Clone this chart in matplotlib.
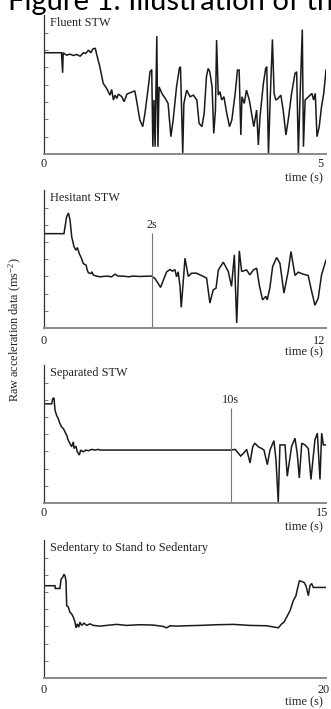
import matplotlib
matplotlib.use("Agg")
import matplotlib.pyplot as plt

plt.rcParams['font.family'] = ['Liberation Serif', 'DejaVu Serif']
plt.rcParams['mathtext.default'] = 'regular'

# ---------------- data ----------------
fluent_t = [0.00, 0.31, 0.33, 0.34, 0.40, 0.46, 0.52, 0.58, 0.64, 0.70, 0.74, 0.79, 0.83, 0.87, 0.91,
            0.93, 0.99, 1.05, 1.11, 1.17, 1.20, 1.23, 1.26, 1.29, 1.32, 1.38, 1.42, 1.47, 1.61, 1.64,
            1.70, 1.75, 1.79, 1.85, 1.88, 1.91, 1.93, 1.95, 1.97, 2.00, 2.02, 2.04, 2.09, 2.15, 2.20,
            2.25, 2.29, 2.35, 2.40, 2.42, 2.46, 2.48, 2.53, 2.59, 2.65, 2.71, 2.75, 2.80, 2.84, 2.88,
            2.91, 2.94, 2.98, 3.01, 3.04, 3.06, 3.09, 3.12, 3.15, 3.19, 3.24, 3.29, 3.33, 3.39, 3.43,
            3.46, 3.49, 3.51, 3.55, 3.59, 3.64, 3.68, 3.72, 3.77, 3.80, 3.83, 3.89, 3.93, 3.95, 3.98,
            4.01, 4.05, 4.08, 4.11, 4.15, 4.20, 4.24, 4.29, 4.33, 4.39, 4.45, 4.48, 4.51, 4.54, 4.58,
            4.60, 4.63, 4.69, 4.75, 4.78, 4.81, 4.84, 4.88, 4.92, 4.96, 5.00]
fluent_v = [5.85, 5.85, 4.69, 5.85, 5.71, 5.77, 5.69, 5.75, 5.65, 5.85, 5.81, 6.00, 5.85, 6.08, 6.10,
            5.81, 5.04, 4.08, 3.79, 3.40, 3.73, 3.12, 3.40, 3.21, 3.46, 3.31, 3.02, 3.46, 3.65, 3.12,
            1.96, 1.58, 2.35, 3.88, 4.75, 4.88, 0.42, 3.12, 0.42, 6.81, 0.42, 3.88, 3.50, 3.21, 2.92,
            1.00, 1.96, 3.88, 4.94, 5.04, 0.04, 2.92, 3.69, 3.31, 3.40, 3.12, 1.77, 1.58, 2.35, 4.46,
            4.94, 4.75, 3.88, 1.19, 2.54, 6.58, 3.40, 3.60, 3.12, 3.31, 2.35, 1.58, 1.96, 3.50, 4.85,
            4.85, 1.10, 3.31, 2.92, 3.69, 3.12, 2.35, 1.58, 2.54, 0.52, 2.15, 4.08, 4.94, 5.04, 0.04,
            3.12, 6.62, 3.50, 3.12, 3.21, 3.40, 2.54, 1.10, 1.96, 3.50, 4.65, 4.75, 0.04, 3.31, 7.19,
            0.42, 3.12, 3.31, 3.50, 3.12, 3.50, 1.00, 1.58, 2.73, 3.50, 4.85]

hesitant_t = [0.00, 0.85, 0.96, 1.04, 1.11, 1.18, 1.28, 1.36, 1.42, 1.50, 1.60, 1.67, 1.79, 1.84, 1.89,
              1.99, 2.04, 2.10, 2.24, 2.38, 2.67, 2.88, 3.02, 3.16, 3.37, 3.59, 3.80, 4.08, 4.58, 4.72,
              4.86, 4.96, 5.08, 5.22, 5.36, 5.47, 5.57, 5.64, 5.71, 5.79, 5.84, 5.93, 6.00, 6.14, 6.28,
              6.49, 6.78, 6.92, 7.06, 7.20, 7.32, 7.42, 7.63, 7.84, 7.98, 8.10, 8.20, 8.31, 8.41, 8.62,
              8.76, 8.91, 9.05, 9.16, 9.30, 9.44, 9.50, 9.61, 9.73, 9.90, 10.04, 10.21, 10.39, 10.51,
              10.68, 10.82, 11.03, 11.24, 11.39, 11.53, 11.67, 11.81, 12.00]
hesitant_v = [5.49, 5.49, 6.46, 6.69, 6.27, 5.30, 4.72, 4.53, 4.68, 4.33, 4.04, 3.75, 3.66, 3.37, 3.21,
              3.17, 3.27, 3.08, 3.02, 2.98, 3.02, 2.98, 3.13, 3.02, 3.02, 2.98, 3.02, 3.00, 3.02, 2.88,
              2.59, 2.36, 2.79, 3.27, 3.40, 3.31, 3.40, 2.98, 3.27, 2.40, 1.20, 2.79, 4.06, 3.00, 3.19,
              3.19, 3.00, 2.90, 1.45, 2.22, 2.32, 3.38, 3.83, 3.29, 2.42, 4.26, 0.29, 4.49, 3.29, 3.38,
              3.09, 3.38, 3.48, 2.51, 1.64, 1.84, 1.64, 2.32, 3.58, 4.10, 3.77, 2.03, 3.29, 4.45,
              3.06, 3.25, 3.13, 3.06, 2.13, 1.32, 1.74, 3.09, 3.95]

separated_t = [0.00, 0.41, 0.46, 0.53, 0.59, 0.67, 0.76, 0.85, 0.94, 1.03, 1.12, 1.21, 1.29, 1.38, 1.47,
               1.56, 1.60, 1.70, 1.77, 1.88, 1.95, 2.09, 2.23, 2.36, 2.54, 2.71, 2.89, 2.98, 9.93, 10.16,
               10.28, 10.46, 10.60, 10.78, 10.96, 11.10, 11.22, 11.40, 11.58, 11.70, 11.88, 12.02, 12.23,
               12.34, 12.46, 12.55, 12.82, 12.94, 13.17, 13.35, 13.47, 13.58, 13.71, 13.88, 14.06, 14.20,
               14.41, 14.54, 14.68, 14.77, 14.86, 15.00]
separated_v = [5.77, 5.77, 6.06, 6.12, 5.38, 5.10, 4.90, 4.62, 4.42, 4.33, 4.13, 3.94, 3.65, 3.46, 3.27,
               3.56, 3.17, 3.31, 2.98, 2.79, 3.08, 2.98, 3.08, 3.04, 3.12, 3.08, 3.12, 3.08, 3.08, 3.12,
               2.98, 2.73, 2.88, 3.12, 2.33, 3.27, 3.48, 3.27, 3.17, 3.08, 2.23, 3.08, 3.63,
               2.50, 0.06, 3.38, 3.38, 1.56, 3.29, 3.77, 2.88, 1.46, 3.48, 3.38, 3.17, 1.37,
               3.67, 4.06, 1.37, 4.06, 3.38, 3.38]

sedentary_t = [0.00, 0.78, 0.80, 1.13, 1.21, 1.32, 1.42, 1.49, 1.56, 1.61, 1.73, 1.84, 1.96, 2.08, 2.20,
               2.27, 2.36, 2.46, 2.55, 2.67, 2.84, 3.03, 3.26, 3.50, 3.97, 4.44, 5.15, 5.86, 6.81, 7.75,
               8.46, 8.70, 8.94, 9.41, 10.12, 11.06, 12.25, 13.43, 14.61, 15.79, 16.62, 16.86, 17.02,
               17.21, 17.45, 17.68, 17.87, 17.97, 18.11, 18.27, 18.44, 18.58, 18.75, 18.86, 18.98, 19.10,
               20.00]
sedentary_v = [5.37, 5.37, 5.21, 5.21, 5.75, 5.85, 6.04, 5.94, 5.65, 4.21, 4.12, 3.83, 3.73, 3.54, 3.25,
               2.92, 3.15, 2.96, 3.25, 3.06, 3.19, 3.06, 3.15, 3.06, 3.02, 3.06, 3.12, 3.06, 3.10, 3.08,
               3.00, 2.92, 3.04, 3.02, 3.04, 3.06, 3.10, 3.12, 3.06, 3.04, 2.92, 3.15, 3.25,
               3.54, 3.92, 4.50, 4.79, 5.17, 5.65, 5.62, 5.56, 5.37, 4.79, 5.37, 5.50, 5.27,
               5.27]

panel_titles = ["Fluent STW", "Hesitant STW", "Separated STW", "Sedentary to Stand to Sedentary"]
panel_tmax = [5, 12, 15, 20]
marker_time = [None, 4.58, 9.93, None]
marker_label = [None, "2s", "10s", None]
ylabel = "Raw acceleration data (ms$^{-2}$)"
fig_title = "Figure 1: Illustration of the"

series = [(fluent_t, fluent_v), (hesitant_t, hesitant_v),
          (separated_t, separated_v), (sedentary_t, sedentary_v)]

# ---------------- layout ----------------
W, H = 331, 709
fig = plt.figure(figsize=(W / 100, H / 100), dpi=100)

# (top_px, bottom_px)
panel_px = [(15, 154), (190, 328), (365, 503), (540, 678)]
num_off = [-10, -13, -10, -12]
right_num_off = [-3, -1, 2, 4]
YMAX = 8.03
fs = 8.8

for i, ((t, v), (top, bot)) in enumerate(zip(series, panel_px)):
    ax = fig.add_axes([44 / W, 1 - bot / H, 282 / W, (bot - top) / H])
    ax.plot(t, v, color='#1a1a1a', lw=1.1, solid_joinstyle='miter')
    ax.set_xlim(0, panel_tmax[i])
    ax.set_ylim(0, YMAX)
    for s in ('top', 'right'):
        ax.spines[s].set_visible(False)
    ax.spines['left'].set_color('#333333')
    ax.spines['left'].set_linewidth(0.9)
    ax.spines['bottom'].set_color('#8a8a8a')
    ax.spines['bottom'].set_linewidth(1.4)
    ax.set_yticks([1, 2, 3, 4, 5, 6, 7])
    ax.set_yticklabels([])
    ax.tick_params(axis='y', direction='in', length=3, width=0.7, color='#777777')
    ax.set_xticks([])
    ax.patch.set_visible(False)

    ax.annotate(panel_titles[i], xy=(0, 1), xycoords='axes fraction',
                xytext=(6, -8), textcoords='offset pixels', ha='left', va='center',
                fontsize=fs, color='#222222')
    ax.annotate("0", xy=(0, 0), xycoords='axes fraction',
                xytext=(0, num_off[i]), textcoords='offset pixels', ha='center', va='center',
                fontsize=fs, color='#222222')
    ax.annotate(str(panel_tmax[i]), xy=(1, 0), xycoords='axes fraction',
                xytext=(right_num_off[i], num_off[i]), textcoords='offset pixels',
                ha='right', va='center', fontsize=fs, color='#222222')
    ax.annotate("time (s)", xy=(1, 0), xycoords='axes fraction',
                xytext=(-3, -24), textcoords='offset pixels', ha='right', va='center',
                fontsize=fs, color='#222222')

    if marker_time[i] is not None:
        ax.vlines(marker_time[i], 0, 5.5, color='#777777', lw=0.8)
        ax.text(marker_time[i], 6.0, marker_label[i], ha='center', va='center',
                fontsize=fs, color='#222222')

fig.text(15 / W, 1 - 330 / H, ylabel, rotation=90, ha='center', va='center',
         fontsize=fs, color='#222222')

fig.text(8 / W, 1 - 10 / H, fig_title, ha='left', va='baseline',
         fontsize=21, family=['Lato', 'DejaVu Sans'], color='black')

fig.savefig("out.png", dpi=100)
